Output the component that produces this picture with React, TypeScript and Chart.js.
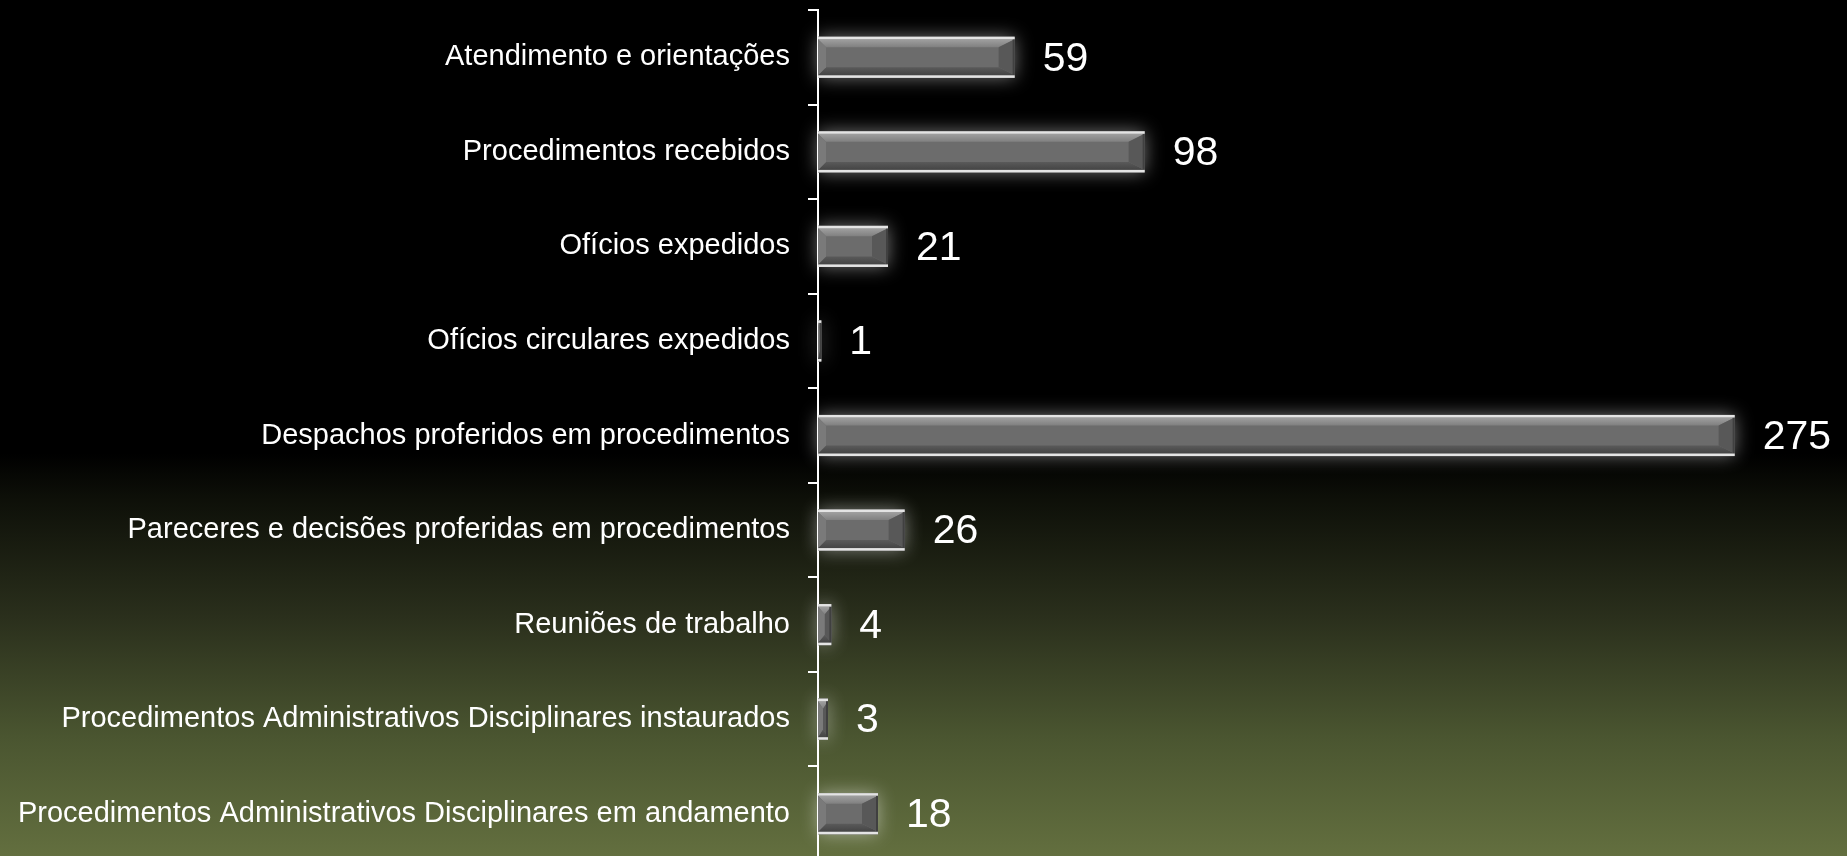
import React, { useEffect, useRef } from "react";
import { Chart, registerables } from "chart.js";

Chart.register(...registerables);

const categories = [
  "Atendimento e orientações",
  "Procedimentos recebidos",
  "Ofícios expedidos",
  "Ofícios circulares expedidos",
  "Despachos proferidos em procedimentos",
  "Pareceres e decisões proferidas em procedimentos",
  "Reuniões de trabalho",
  "Procedimentos Administrativos Disciplinares instaurados",
  "Procedimentos Administrativos Disciplinares em andamento",
];
const values = [59, 98, 21, 1, 275, 26, 4, 3, 18];
const xMax = 300;

const FONT = "'Liberation Sans', Arial, sans-serif";

const glowPlugin = {
  id: "glow",
  beforeDatasetsDraw(chart: any) {
    const ctx = chart.ctx;
    const meta = chart.getDatasetMeta(0);
    meta.data.forEach((el: any) => {
      const { x, y, base, height } = el.getProps(["x", "y", "base", "height"], true);
      const left = Math.min(base, x);
      const w = Math.abs(x - base);
      ctx.save();
      ctx.shadowColor = "rgba(255,255,255,0.45)";
      ctx.shadowBlur = 18;
      ctx.fillStyle = "#6c6c6c";
      ctx.fillRect(left, y - height / 2, w, height);
      ctx.restore();
    });
  },
  afterDatasetsDraw(chart: any) {
    const ctx = chart.ctx;
    const meta = chart.getDatasetMeta(0);
    meta.data.forEach((el: any) => {
      const { x, y, base, height } = el.getProps(["x", "y", "base", "height"], true);
      const left = Math.min(base, x);
      const right = Math.max(base, x);
      const w = right - left;
      const top = y - height / 2;
      const bottom = y + height / 2;
      const lw = 2.5;
      const t = top + lw;
      const bt = bottom - lw;
      const bv = 8;
      const br = Math.min(16, w / 2);
      const bl = Math.min(8, w / 2);
      ctx.save();
      // top bevel
      const g = ctx.createLinearGradient(0, t, 0, t + bv);
      g.addColorStop(0, "#a0a0a0");
      g.addColorStop(1, "#808080");
      ctx.fillStyle = g;
      ctx.beginPath();
      ctx.moveTo(left, t);
      ctx.lineTo(right, t);
      ctx.lineTo(right - br, t + bv);
      ctx.lineTo(left + bl, t + bv);
      ctx.closePath();
      ctx.fill();
      // bottom bevel
      const g2 = ctx.createLinearGradient(0, bt - bv, 0, bt);
      g2.addColorStop(0, "#5a5a5a");
      g2.addColorStop(1, "#444444");
      ctx.fillStyle = g2;
      ctx.beginPath();
      ctx.moveTo(left, bt);
      ctx.lineTo(right, bt);
      ctx.lineTo(right - br, bt - bv);
      ctx.lineTo(left + bl, bt - bv);
      ctx.closePath();
      ctx.fill();
      // right bevel
      ctx.fillStyle = "#585858";
      ctx.beginPath();
      ctx.moveTo(right, t);
      ctx.lineTo(right, bt);
      ctx.lineTo(right - br, bt - bv);
      ctx.lineTo(right - br, t + bv);
      ctx.closePath();
      ctx.fill();
      ctx.fillStyle = "#404040";
      ctx.fillRect(right - 2, t, 2, bt - t);
      // left bevel
      ctx.fillStyle = "#7a7a7a";
      ctx.beginPath();
      ctx.moveTo(left, t);
      ctx.lineTo(left + bl, t + bv);
      ctx.lineTo(left + bl, bt - bv);
      ctx.lineTo(left, bt);
      ctx.closePath();
      ctx.fill();
      // white edge lines
      ctx.fillStyle = "#e4e4e4";
      ctx.fillRect(left, top, w, lw);
      ctx.fillRect(left, bottom - lw, w, lw);
      ctx.restore();
    });
  },
};

const labelPlugin = {
  id: "valueLabels",
  afterDatasetsDraw(chart: any) {
    const ctx = chart.ctx;
    const meta = chart.getDatasetMeta(0);
    ctx.save();
    ctx.fillStyle = "#ffffff";
    ctx.font = `41px ${FONT}`;
    ctx.textAlign = "left";
    ctx.textBaseline = "middle";
    meta.data.forEach((el: any, i: number) => {
      const { x, y } = el.getProps(["x", "y"], true);
      ctx.fillText(String(values[i]), x + 28, y + 2);
    });
    ctx.restore();
  },
};

export default function App() {
  const ref = useRef<HTMLCanvasElement>(null);
  useEffect(() => {
    if (!ref.current) return;
    const chart = new Chart(ref.current, {
      type: "bar",
      data: {
        labels: categories,
        datasets: [
          {
            data: values,
            backgroundColor: "#6c6c6c",
            borderWidth: 0,
            barPercentage: 0.435,
            categoryPercentage: 1,
          },
        ],
      },
      options: {
        indexAxis: "y",
        responsive: false,
        animation: false,
        layout: { padding: { top: 10, right: 29, bottom: 0, left: 0 } },
        plugins: { legend: { display: false }, tooltip: { enabled: false } },
        scales: {
          x: { display: false, min: 0, max: xMax },
          y: {
            afterFit: (s: any) => {
              s.width = 818;
              s.paddingTop = 0;
              s.paddingBottom = 0;
            },
            border: { display: true, color: "#ffffff", width: 2 },
            grid: {
              display: true,
              drawOnChartArea: false,
              drawTicks: true,
              tickLength: 10,
              color: "#ffffff",
              lineWidth: 2,
              offset: true,
            },
            ticks: {
              color: "#ffffff",
              padding: 18,
              font: { family: FONT, size: 29 },
              autoSkip: false,
            },
          },
        },
      },
      plugins: [glowPlugin, labelPlugin],
    });
    return () => chart.destroy();
  }, []);
  return (
    <div
      style={{
        position: "fixed",
        left: 0,
        top: 0,
        width: 1847,
        height: 856,
        overflow: "hidden",
        background:
          "linear-gradient(to bottom, #000000 0%, #000000 53%, #0d0f08 58%, #2a2f1c 72%, #4a5530 86%, #636f3f 100%)",
      }}
    >
      <canvas ref={ref} width={1847} height={861} style={{ display: "block" }} />
    </div>
  );
}
